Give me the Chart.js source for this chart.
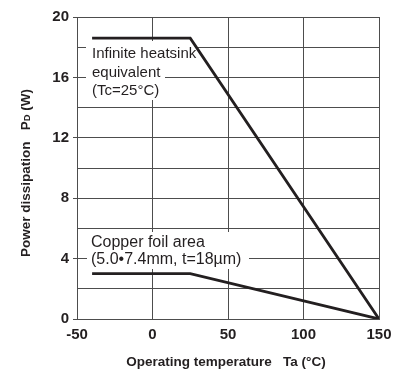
<!DOCTYPE html>
<html>
<head>
<meta charset="utf-8">
<script src="https://cdn.jsdelivr.net/npm/chart.js@4"></script>
<style>
  body { margin: 0; background: #fff; }
  #wrap { width: 409px; height: 373px; }
</style>
</head>
<body>
<div id="wrap"><canvas id="derating" width="409" height="373"></canvas></div>
<script>
// Power derating curves, Pd (W) against ambient temperature Ta (°C)
const temps = [-40, 25, 150];
const heatsinkPd = [18.6, 18.6, 0];
const copperPd = [3.0, 3.0, 0];

const xTicks = [-50, 0, 50, 100, 150];
const yTicks = [0, 2, 4, 6, 8, 10, 12, 14, 16, 18, 20];
const yLabelled = [0, 4, 8, 12, 16, 20];

const FONT = "'Liberation Sans', Arial, sans-serif";
const INK = '#231f20';
const GRID = '#4d4d4d';

function points(ys) {
  return temps.map((t, i) => ({ x: t, y: ys[i] }));
}

// text blocks sitting on white boxes so the grid is knocked out behind them
const notes = [
  {
    font: '15px ' + FONT,
    lines: [
      { text: 'Infinite heatsink', x: 92, y: 58 },
      { text: 'equivalent', x: 92, y: 76.5 },
      { text: '(Tc=25°C)', x: 92, y: 95 }
    ],
    boxes: [[86, 41, 110, 21], [86, 62, 79, 38]]
  },
  {
    font: '16px ' + FONT,
    lines: [
      { text: 'Copper foil area', x: 91, y: 246.5 },
      { text: '(5.0\u20227.4mm, t=18\u00b5m)', x: 91, y: 264 }
    ],
    boxes: [[87, 232, 162, 37]]
  }
];

const notesPlugin = {
  id: 'notes',
  beforeDatasetsDraw(chart) {
    const ctx = chart.ctx;
    ctx.save();
    notes.forEach(n => {
      ctx.fillStyle = '#fff';
      n.boxes.forEach(b => ctx.fillRect(b[0], b[1], b[2], b[3]));
      ctx.fillStyle = INK;
      ctx.font = n.font;
      ctx.textAlign = 'left';
      ctx.textBaseline = 'alphabetic';
      n.lines.forEach(l => ctx.fillText(l.text, l.x, l.y));
    });
    ctx.restore();
  }
};

// axis titles drawn by hand (the y title has a subscript)
const titlesPlugin = {
  id: 'titles',
  afterDraw(chart) {
    const ctx = chart.ctx;
    ctx.save();
    ctx.fillStyle = INK;
    ctx.textBaseline = 'alphabetic';

    ctx.font = 'bold 13.5px ' + FONT;
    ctx.textAlign = 'center';
    ctx.fillText('Operating temperature   Ta (°C)', 226, 366);

    const parts = [
      { t: 'Power dissipation   P', f: 'bold 13.5px ' + FONT },
      { t: 'D', f: 'bold 9.5px ' + FONT },
      { t: ' (W)', f: 'bold 13.5px ' + FONT }
    ];
    let total = 0;
    parts.forEach(p => { ctx.font = p.f; p.w = ctx.measureText(p.t).width; total += p.w; });
    ctx.translate(30, 173);
    ctx.rotate(-Math.PI / 2);
    ctx.textAlign = 'left';
    let x = -total / 2;
    parts.forEach(p => { ctx.font = p.f; ctx.fillText(p.t, x, 0); x += p.w; });
    ctx.restore();
  }
};

const ctx = document.getElementById('derating').getContext('2d');
new Chart(ctx, {
  type: 'line',
  data: {
    datasets: [
      { label: 'Infinite heatsink', data: points(heatsinkPd) },
      { label: 'Copper foil area', data: points(copperPd) }
    ]
  },
  options: {
    responsive: false,
    animation: false,
    layout: { padding: { left: 0, top: 17, right: 30, bottom: 0 } },
    elements: {
      line: { borderColor: INK, borderWidth: 2.8, tension: 0, fill: false },
      point: { radius: 0 }
    },
    plugins: {
      legend: { display: false },
      tooltip: { enabled: false }
    },
    scales: {
      x: {
        type: 'linear',
        min: xTicks[0],
        max: xTicks[xTicks.length - 1],
        afterBuildTicks: s => { s.ticks = xTicks.map(v => ({ value: v })); },
        afterFit: s => { s.height = 54; },
        ticks: { padding: 7, color: INK, font: { family: FONT, size: 15, weight: 'bold' } },
        grid: { color: GRID, lineWidth: 1, drawTicks: false },
        border: { color: GRID, width: 1 }
      },
      y: {
        min: 0,
        max: 20,
        afterBuildTicks: s => { s.ticks = yTicks.map(v => ({ value: v })); },
        afterFit: s => { s.width = 77; },
        ticks: {
          padding: 4,
          color: INK,
          font: { family: FONT, size: 15, weight: 'bold' },
          callback: v => (yLabelled.includes(v) ? v : '')
        },
        grid: {
          color: GRID,
          lineWidth: 1,
          tickLength: 4,
          tickColor: c => (yLabelled.includes(c.tick && c.tick.value) ? GRID : 'rgba(0,0,0,0)')
        },
        border: { color: GRID, width: 1 }
      }
    }
  },
  plugins: [notesPlugin, titlesPlugin]
});
</script>
</body>
</html>
